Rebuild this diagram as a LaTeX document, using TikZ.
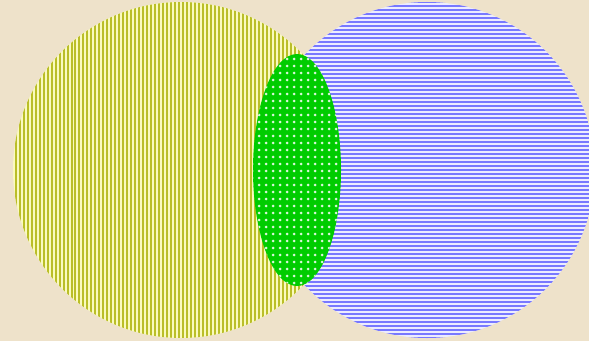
\documentclass[tikz,border=0pt]{standalone}
\usetikzlibrary{patterns,patterns.meta}

\definecolor{paper}{RGB}{238,226,202}
\definecolor{leftfill}{RGB}{250,250,190}
\definecolor{leftline}{RGB}{186,190,40}
\definecolor{rightfill}{RGB}{236,236,255}
\definecolor{rightline}{RGB}{120,120,255}
\definecolor{midfill}{RGB}{0,204,0}

\tikzset{
  setA/.style={fill=leftfill, postaction={pattern={Lines[angle=90, distance=4pt, line width=1.7pt]}, pattern color=leftline}},
  setB/.style={fill=rightfill, postaction={pattern={Lines[distance=4pt, line width=1.7pt]}, pattern color=rightline}},
  setAB/.style={fill=midfill, postaction={pattern={Dots[distance=6.5pt, radius=1.6pt]}, pattern color=white!85!midfill}}
}

\begin{document}
\begin{tikzpicture}[x=1bp, y=1bp]
    % Background and picture size
    \fill[paper] (0,0) rectangle (589,341);
    \useasboundingbox (0,0) rectangle (589,341);
    \clip (0,0) rectangle (589,341);

    % Left set
    \path[setA] (181,171) circle (168);

    % Right set
    \path[setB] (427,171) circle (168);

    % Intersection
    \path[setAB] (297,171) ellipse (44 and 116);
\end{tikzpicture}
\end{document}
